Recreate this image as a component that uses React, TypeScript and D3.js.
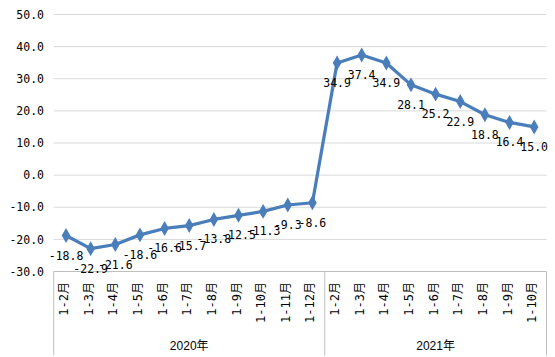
import React from "react";
import * as d3 from "d3";

const years = ["2020年", "2021年"];
const months2020 = ["1-2月", "1-3月", "1-4月", "1-5月", "1-6月", "1-7月", "1-8月", "1-9月", "1-10月", "1-11月", "1-12月"];
const months2021 = ["1-2月", "1-3月", "1-4月", "1-5月", "1-6月", "1-7月", "1-8月", "1-9月", "1-10月"];
const values2020 = [-18.8, -22.9, -21.6, -18.6, -16.6, -15.7, -13.8, -12.5, -11.3, -9.3, -8.6];
const values2021 = [34.9, 37.4, 34.9, 28.1, 25.2, 22.9, 18.8, 16.4, 15.0];
const yTicks = [50, 40, 30, 20, 10, 0, -10, -20, -30];

const W = 555;
const H = 357;
const left = 53.7;
const right = 546.5;
const top = 14.5;
const bottom = 271.5;
const boxBottom = 355.5;
const color = "#4A7EBB";
const monoFont = "'DejaVu Sans Mono', 'Liberation Mono', 'Noto Sans CJK SC', monospace";

export default function App() {
  const cats = [
    ...months2020.map((m, i) => ({ key: `a${i}`, label: m, year: 0, v: values2020[i] })),
    ...months2021.map((m, i) => ({ key: `b${i}`, label: m, year: 1, v: values2021[i] })),
  ];
  const x = d3.scaleBand<string>().domain(cats.map((c) => c.key)).range([left, right]);
  const y = d3.scaleLinear().domain([-30, 50]).range([bottom, top]);
  const cx = (k: string) => (x(k) as number) + x.bandwidth() / 2;
  const line = d3
    .line<(typeof cats)[number]>()
    .x((d) => cx(d.key))
    .y((d) => y(d.v));
  const sep = x(cats[months2020.length].key) as number;
  const diamond = d3.symbol(d3.symbolDiamond, 64)();

  return (
    <svg width={W} height={H} style={{ position: "absolute", left: 0, top: 0, background: "#fff" }}>
      {yTicks.map((t) => (
        <g key={t}>
          <line x1={left} x2={right} y1={y(t)} y2={y(t)} stroke={t === -30 ? "#BFBFBF" : "#D9D9D9"} strokeWidth={1} />
          <text x={44} y={y(t)} dy="0.36em" textAnchor="end" fontFamily={monoFont} fontSize={11.5} fill="#000">
            {t.toFixed(1)}
          </text>
        </g>
      ))}
      {[left, sep, right].map((xx, i) => (
        <line key={i} x1={xx} x2={xx} y1={bottom} y2={boxBottom} stroke="#BFBFBF" strokeWidth={1} />
      ))}
      {cats.map((c) => (
        <text
          key={c.key}
          transform={`translate(${cx(c.key) + 2},282) rotate(-90)`}
          textAnchor="end"
          fontFamily={monoFont}
          fontSize={12}
          fill="#000"
        >
          {c.label}
        </text>
      ))}
      {years.map((yr, i) => (
        <text
          key={yr}
          x={i === 0 ? (left + sep) / 2 : (sep + right) / 2}
          y={350}
          textAnchor="middle"
          fontFamily="'Liberation Sans', 'Noto Sans CJK SC', sans-serif"
          fontSize={12}
          fill="#000"
        >
          {yr}
        </text>
      ))}
      <path d={line(cats) || ""} fill="none" stroke={color} strokeWidth={3.25} strokeLinejoin="round" />
      {cats.map((c) => (
        <path key={c.key} d={diamond || ""} transform={`translate(${cx(c.key)},${y(c.v)})`} fill={color} />
      ))}
      {cats.map((c) => (
        <text
          key={c.key}
          x={cx(c.key)}
          y={y(c.v) + 24}
          textAnchor="middle"
          fontFamily={monoFont}
          fontSize={11.5}
          fill="#000"
        >
          {c.v.toFixed(1)}
        </text>
      ))}
    </svg>
  );
}
